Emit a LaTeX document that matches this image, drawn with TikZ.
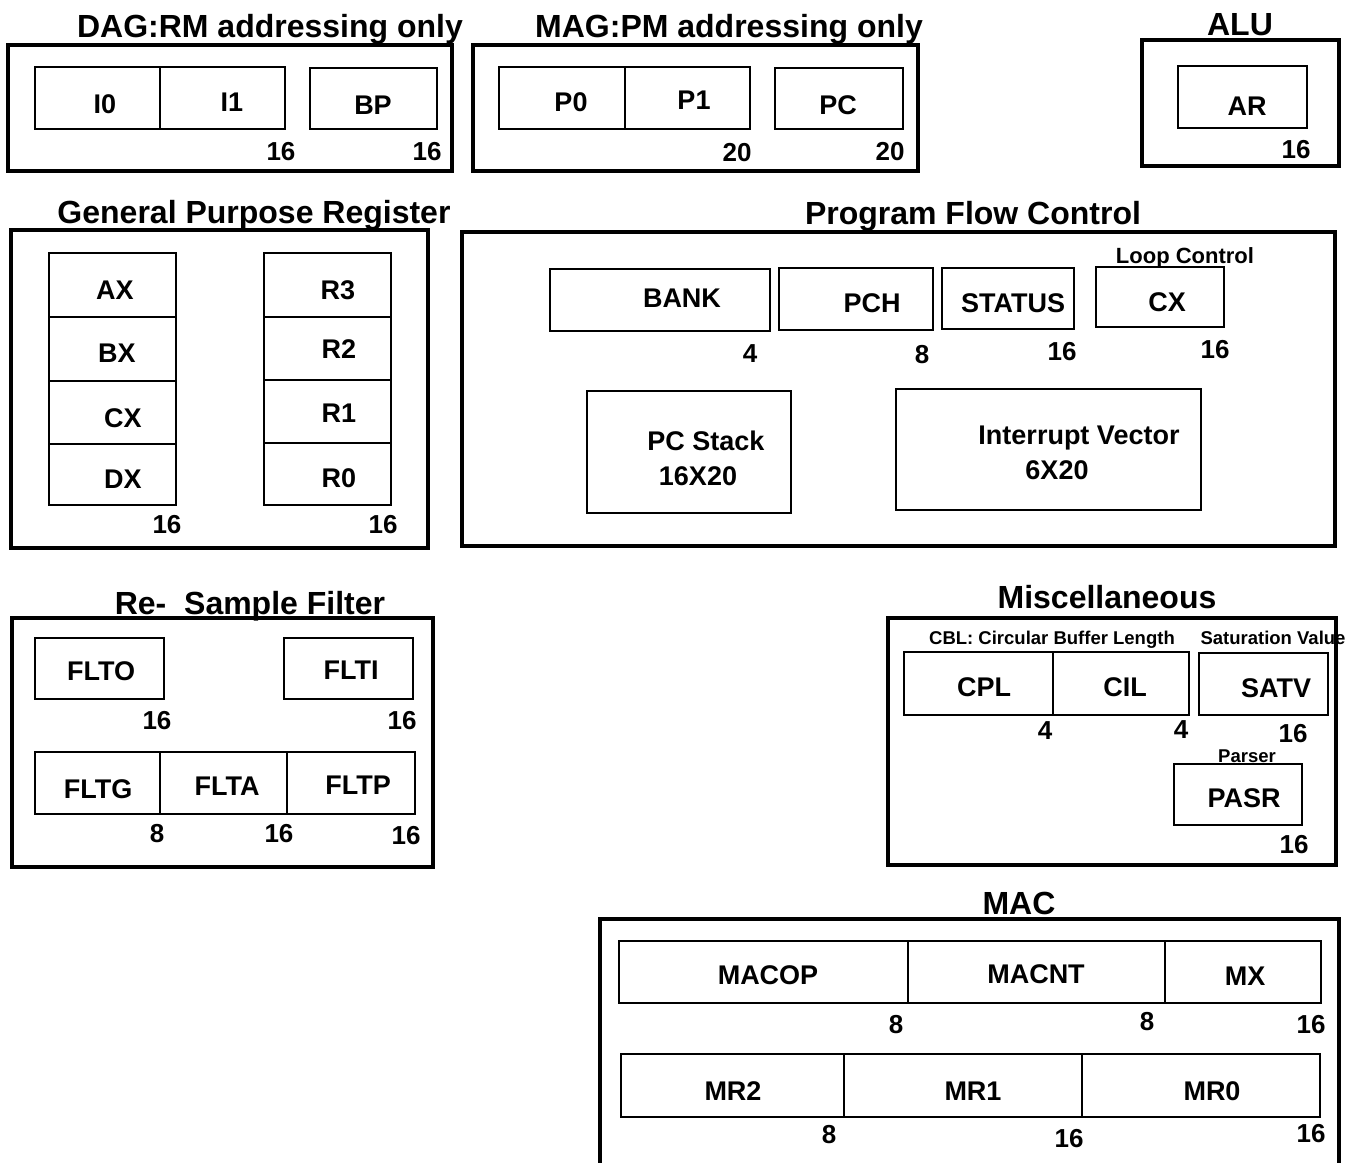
\documentclass[tikz,border=0pt]{standalone}
\usepackage{fontspec}
\setmainfont{Liberation Sans}
\newcommand\ttlf{\fontsize{32}{34}\selectfont\bfseries}
\newcommand\lblf{\fontsize{27}{29}\selectfont\bfseries}
\newcommand\numf{\fontsize{26}{28}\selectfont\bfseries}
\newcommand\loopf{\fontsize{22}{24}\selectfont\bfseries}
\newcommand\smf{\fontsize{18.5}{20}\selectfont\bfseries}
\tikzset{
  outerbox/.style={line width=4pt},
  regbox/.style={line width=2pt},
  divline/.style={line width=1.6pt},
  ttl/.style={font=\ttlf, inner sep=0pt, text height=23pt, text depth=0pt},
  lbl/.style={font=\lblf, inner sep=0pt, text height=19.3pt, text depth=0pt},
  num/.style={font=\numf, inner sep=0pt, text height=18.6pt, text depth=0pt},
  loopt/.style={font=\loopf, inner sep=0pt, text height=15.8pt, text depth=0pt},
  smt/.style={font=\smf, inner sep=0pt, text height=13.2pt, text depth=0pt}
}
\begin{document}
\begin{tikzpicture}[x=1pt,y=-1pt]
\useasboundingbox[fill=white] (0,0) rectangle (1360,1162);

% ---------- DAG ----------
\node[ttl] (tdag) at (270,26) {DAG:RM addressing only};
\draw[outerbox] (8,45) rectangle (452,171);
\draw[regbox] (35,67) rectangle (285,129);
\draw[divline] (160,67) -- (160,129);
\draw[regbox] (310,68) rectangle (437,129);
\node[lbl] (i0) at (105,104) {I0};
\node[lbl] (i1) at (232,102) {I1};
\node[lbl] (bp) at (373,105) {BP};
\node[num] (ndag1) at (281,151) {16};
\node[num] (ndag2) at (427,151) {16};

% ---------- MAG ----------
\node[ttl] (tmag) at (729,26) {MAG:PM addressing only};
\draw[outerbox] (473,45) rectangle (918,171);
\draw[regbox] (499,67) rectangle (750,129);
\draw[divline] (625,67) -- (625,129);
\draw[regbox] (775,68) rectangle (903,129);
\node[lbl] (p0) at (571,102) {P0};
\node[lbl] (p1) at (694,100) {P1};
\node[lbl] (pc) at (838,105) {PC};
\node[num] (nmag1) at (737,152) {20};
\node[num] (nmag2) at (890,151) {20};

% ---------- ALU ----------
\node[ttl] (talu) at (1240,24) {ALU};
\draw[outerbox] (1142,40) rectangle (1339,166);
\draw[regbox] (1178,66) rectangle (1307,128);
\node[lbl] (ar) at (1247,106) {AR};
\node[num] (nalu) at (1296,149) {16};

% ---------- General Purpose Register ----------
\node[ttl] (tgpr) at (254,212) {General Purpose Register};
\draw[outerbox] (11,230) rectangle (428,548);
\draw[regbox] (49,253) rectangle (176,505);
\draw[regbox] (49,317) -- (176,317);
\draw[regbox] (49,381) -- (176,381);
\draw[regbox] (49,444) -- (176,444);
\draw[regbox] (264,253) rectangle (391,505);
\draw[regbox] (264,317) -- (391,317);
\draw[regbox] (264,380) -- (391,380);
\draw[regbox] (264,443) -- (391,443);
\node[lbl] (ax) at (115,290) {AX};
\node[lbl] (bx) at (117,353) {BX};
\node[lbl] (cx) at (123,418) {CX};
\node[lbl] (dx) at (123,479) {DX};
\node[lbl] (r3) at (338,290) {R3};
\node[lbl] (r2) at (339,349) {R2};
\node[lbl] (r1) at (339,413) {R1};
\node[lbl] (r0) at (339,478) {R0};
\node[num] (ngpr1) at (167,524) {16};
\node[num] (ngpr2) at (383,524) {16};

% ---------- Program Flow Control ----------
\node[ttl] (tpfc) at (973,213) {Program Flow Control};
\draw[outerbox] (462,232) rectangle (1335,546);
\draw[regbox] (550,269) rectangle (770,331);
\draw[regbox] (779,268) rectangle (933,330);
\draw[regbox] (942,268) rectangle (1074,329);
\draw[regbox] (1096,267) rectangle (1224,327);
\node[lbl] (bank) at (682,298) {BANK};
\node[lbl] (pch) at (872,303) {PCH};
\node[lbl] (status) at (1013,303) {STATUS};
\node[lbl] (lcx) at (1167,302) {CX};
\node[loopt] (loop) at (1185,256) {Loop Control};
\node[num] (npfc1) at (750,353) {4};
\node[num] (npfc2) at (922,354) {8};
\node[num] (npfc3) at (1062,351) {16};
\node[num] (npfc4) at (1215,349) {16};
\draw[regbox] (587,391) rectangle (791,513);
\node[lbl] (pcs1) at (706,441) {PC Stack};
\node[lbl] (pcs2) at (698,476) {16X20};
\draw[regbox] (896,389) rectangle (1201,510);
\node[lbl] (iv1) at (1079,435) {Interrupt Vector};
\node[lbl] (iv2) at (1057,470) {6X20};

% ---------- Re- Sample Filter ----------
\node[ttl] (trsf) at (250,603) {Re-\ \ Sample Filter};
\draw[outerbox] (12,618) rectangle (433,867);
\draw[regbox] (35,638) rectangle (164,699);
\draw[regbox] (284,638) rectangle (413,699);
\node[lbl] (flto) at (101,671) {FLTO};
\node[lbl] (flti) at (351,670) {FLTI};
\node[num] (nrsf1) at (157,720) {16};
\node[num] (nrsf2) at (402,720) {16};
\draw[regbox] (35,752) rectangle (415,814);
\draw[divline] (160,752) -- (160,814);
\draw[divline] (287,752) -- (287,814);
\node[lbl] (fltg) at (98,789) {FLTG};
\node[lbl] (flta) at (227,786) {FLTA};
\node[lbl] (fltp) at (358,785) {FLTP};
\node[num] (nrsf3) at (157,833) {8};
\node[num] (nrsf4) at (279,833) {16};
\node[num] (nrsf5) at (406,835) {16};

% ---------- Miscellaneous ----------
\node[ttl] (tmisc) at (1107,597) {Miscellaneous};
\draw[outerbox] (888,618) rectangle (1336,865);
\node[smt] (cbl) at (1052,638) {CBL: Circular Buffer Length};
\node[smt] (satl) at (1273,638) {Saturation Value};
\node[smt] (parl) at (1247,756) {Parser};
\draw[regbox] (904,652) rectangle (1189,715);
\draw[divline] (1053,652) -- (1053,715);
\draw[regbox] (1199,653) rectangle (1328,715);
\draw[regbox] (1174,764) rectangle (1302,825);
\node[lbl] (cpl) at (984,687) {CPL};
\node[lbl] (cil) at (1125,687) {CIL};
\node[lbl] (satv) at (1276,688) {SATV};
\node[lbl] (pasr) at (1244,798) {PASR};
\node[num] (nmisc1) at (1045,730) {4};
\node[num] (nmisc2) at (1181,729) {4};
\node[num] (nmisc3) at (1293,733) {16};
\node[num] (nmisc4) at (1294,844) {16};

% ---------- MAC ----------
\node[ttl] (tmac) at (1019,903) {MAC};
\draw[outerbox] (600,1164) -- (600,919) -- (1339,919) -- (1339,1164);
\draw[regbox] (619,941) rectangle (1321,1003);
\draw[divline] (908,941) -- (908,1003);
\draw[divline] (1165,941) -- (1165,1003);
\draw[regbox] (621,1054) rectangle (1320,1117);
\draw[divline] (844,1054) -- (844,1117);
\draw[divline] (1082,1054) -- (1082,1117);
\node[lbl] (macop) at (768,975) {MACOP};
\node[lbl] (macnt) at (1036,974) {MACNT};
\node[lbl] (mx) at (1245,976) {MX};
\node[lbl] (mr2) at (733,1091) {MR2};
\node[lbl] (mr1) at (973,1091) {MR1};
\node[lbl] (mr0) at (1212,1091) {MR0};
\node[num] (nmac1) at (896,1024) {8};
\node[num] (nmac2) at (1147,1021) {8};
\node[num] (nmac3) at (1311,1024) {16};
\node[num] (nmac4) at (829,1134) {8};
\node[num] (nmac5) at (1069,1138) {16};
\node[num] (nmac6) at (1311,1133) {16};
\end{tikzpicture}
\end{document}
